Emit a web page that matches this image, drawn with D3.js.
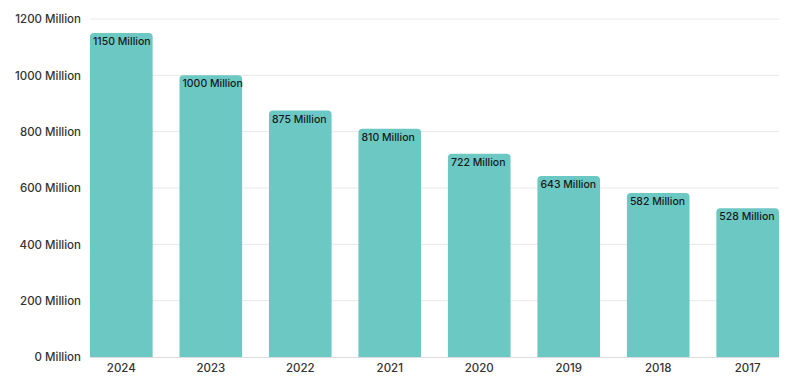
<!DOCTYPE html>
<html><head><meta charset="utf-8">
<script src="https://cdn.jsdelivr.net/npm/d3@7"></script>
<style>body{margin:0;background:#fff}svg{display:block}</style>
</head><body>
<svg id="c" width="794" height="381"></svg>
<script>
const years = ["2024","2023","2022","2021","2020","2019","2018","2017"];
const users = [1150,1000,875,810,722,643,582,528];
const yTicks = [0,200,400,600,800,1000,1200];

const svg = d3.select("#c");
const font = "Inter, 'Open Sans', sans-serif";
const x = d3.scaleBand().domain(years).range([90,779]).paddingInner(0.3).paddingOuter(0);
const y = d3.scaleLinear().domain([0,1200]).range([357,19]);

// grid
svg.append("g").selectAll("line").data(yTicks.filter(d=>d>0)).join("line")
  .attr("x1",90).attr("x2",779).attr("y1",d=>y(d)).attr("y2",d=>y(d))
  .attr("stroke","#e8e8e8").attr("stroke-width",1);

// y labels
const yAxis = d3.axisLeft(y).tickValues(yTicks).tickSize(0).tickPadding(9).tickFormat(d=>d+" Million");
const gy = svg.append("g").attr("transform","translate(90,0)").call(yAxis);
gy.select(".domain").remove();
gy.selectAll("text").attr("font-family",font).attr("font-size",11.5).attr("font-weight",500).attr("fill","#333");

// bars with rounded top corners
const r = 4;
svg.append("g").selectAll("path").data(years).join("path")
  .attr("d",(d,i)=>{
    const x0=x(d), w=x.bandwidth(), y0=y(users[i]), yb=y(0);
    return `M${x0},${yb}V${y0+r}Q${x0},${y0} ${x0+r},${y0}H${x0+w-r}Q${x0+w},${y0} ${x0+w},${y0+r}V${yb}Z`;
  })
  .attr("fill","#6cc8c3");

// value labels
svg.append("g").selectAll("text").data(years).join("text")
  .attr("x",d=>x(d)+3).attr("y",(d,i)=>y(users[i])+12)
  .attr("font-family",font).attr("font-size",10.5).attr("font-weight",500).attr("fill","#1a1a1a")
  .text((d,i)=>users[i]+" Million");

// x axis
const xAxis = d3.axisBottom(x).tickSize(0).tickPadding(7);
const gx = svg.append("g").attr("transform","translate(0,357)").call(xAxis);
gx.select(".domain").attr("d","M90,0.5H779").attr("stroke","#dcdcdc");
gx.selectAll("text").attr("font-family",font).attr("font-size",11.5).attr("font-weight",500).attr("fill","#333");
</script>
</body></html>
